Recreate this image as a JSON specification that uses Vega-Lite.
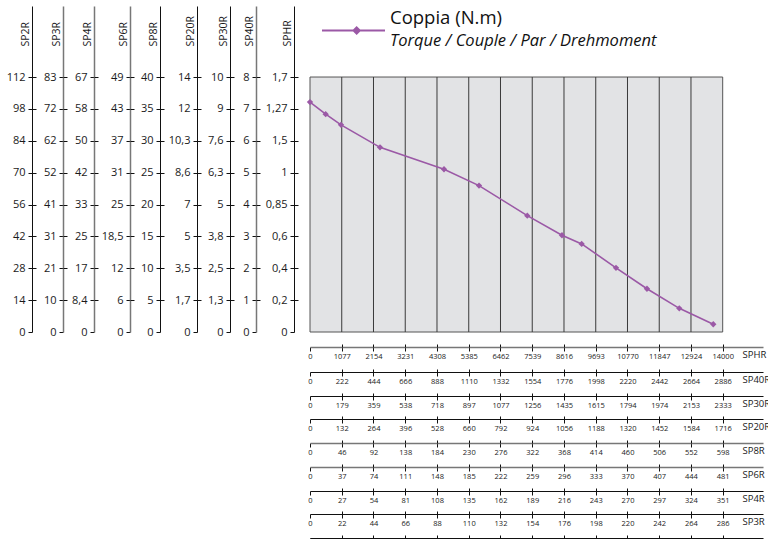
{
"$schema": "https://vega.github.io/schema/vega-lite/v6.json",
"width": 453, "height": 326,
"autosize": {"type": "none"},
"padding": {"left": 310, "top": 6, "right": 5, "bottom": 207},
"background": "white",
"datasets": {
 "torque": [
  {"rpm": 0, "t": 101.0}, {"rpm": 532, "t": 95.7}, {"rpm": 1052, "t": 91.0}, {"rpm": 2375, "t": 81.1},
  {"rpm": 4546, "t": 71.5}, {"rpm": 5733, "t": 64.3}, {"rpm": 7371, "t": 51.1}, {"rpm": 8548, "t": 42.5},
  {"rpm": 9216, "t": 38.7}, {"rpm": 10380, "t": 28.2}, {"rpm": 11431, "t": 19.0}, {"rpm": 12527, "t": 10.4},
  {"rpm": 13680, "t": 3.4}
 ],
 "grid": [{"x": 1077}, {"x": 2154}, {"x": 3231}, {"x": 4308}, {"x": 5385}, {"x": 6462}, {"x": 7539}, {"x": 8616}, {"x": 9693}, {"x": 10770}, {"x": 11847}, {"x": 12924}],
 "one": [{}]
},
"data": {"name": "torque"},
"title": {"text": "Coppia (N.m)", "subtitle": "Torque / Couple / Par / Drehmoment", "anchor": "start", "frame": "group", "orient": "top", "offset": 0, "dx": 80, "dy": 51, "font": "Open Sans", "fontSize": 18.5, "fontWeight": "normal", "color": "#111", "subtitleFont": "Open Sans", "subtitleFontSize": 16.5, "subtitleFontStyle": "italic", "subtitleColor": "#111", "subtitlePadding": 5},
"config": {
 "view": {"stroke": null},
 "axis": {"labelFont": "Open Sans", "titleFont": "Open Sans", "titleFontWeight": "normal", "labelColor": "#1a1a1a", "titleColor": "#1a1a1a", "tickColor": "#111", "grid": false, "labelOverlap": false, "labelFlush": false},
 "axisLeft": {"tickSize": 4, "labelPadding": 3, "labelFontSize": 11, "titleFontSize": 10.5, "titleAngle": 270, "titleAlign": "left", "titleBaseline": "alphabetic", "titleX": -4, "titleY": 40},
 "axisBottom": {"tickSize": 4, "labelPadding": 1.5, "labelFontSize": 7.5, "labelAngle": 0, "titleFontSize": 9.5, "titleAngle": 0, "titleAlign": "left", "titleBaseline": "alphabetic", "titleX": 432, "titleY": 10.5}
},
"resolve": {"scale": {"x": "independent", "y": "independent"}, "axis": {"x": "independent", "y": "independent"}},
"layer": [
 {"data": {"name": "one"}, "mark": {"type": "rect", "fill": "#e2e3e5", "stroke": "#555", "strokeWidth": 1},
  "encoding": {
   "x": {"datum": 0, "type": "quantitative", "scale": {"domain": [0, 15367], "nice": false, "zero": false}, "axis": null},
   "x2": {"datum": 14000},
   "y": {"datum": 0, "type": "quantitative", "scale": {"domain": [0, 143.2], "nice": false, "zero": false}, "axis": null},
   "y2": {"datum": 112}}},
 {"data": {"name": "grid"}, "mark": {"type": "rule", "color": "#3a3a3a", "strokeWidth": 1},
  "encoding": {
   "x": {"field": "x", "type": "quantitative", "scale": {"domain": [0, 15367], "nice": false, "zero": false}, "axis": null},
   "y": {"datum": 0, "type": "quantitative", "scale": {"domain": [0, 143.2], "nice": false, "zero": false}, "axis": null},
   "y2": {"datum": 112}}},
 {"mark": {"type": "line", "strokeWidth": 1.6, "point": {"shape": "diamond", "size": 40, "filled": true}},
  "encoding": {
   "x": {"field": "rpm", "type": "quantitative", "scale": {"domain": [0, 15367], "nice": false, "zero": false}, "axis": null},
   "y": {"field": "t", "type": "quantitative", "scale": {"domain": [0, 143.2], "nice": false, "zero": false}, "axis": null},
   "color": {"datum": "Coppia (N.m)", "scale": {"range": ["#9b59a6"]},
    "legend": {"orient": "none", "legendX": 11, "legendY": -8, "title": null, "symbolType": "M-1,0H1M0.1,-0.1L0.2,0L0.1,0.1L0,0Z", "symbolSize": 3969, "labelExpr": "''", "symbolStrokeWidth": 2, "symbolFillColor": "#9b59a6", "symbolStrokeColor": "#9b59a6"}}}},

 {"mark": {"type": "point", "opacity": 0}, "encoding": {"y": {"field": "t", "type": "quantitative", "scale": {"domain": [0, 143.2], "nice": false, "zero": false}, "axis": {"orient": "left", "offset": 278, "values": [0,14,28,42,56,70,84,98,112], "labelExpr": "['0','14','28','42','56','70','84','98','112'][round(datum.value/14)]", "title": "SP2R", "domainColor": "#111"}}}},
 {"mark": {"type": "point", "opacity": 0}, "encoding": {"y": {"field": "t", "type": "quantitative", "scale": {"domain": [0, 143.2], "nice": false, "zero": false}, "axis": {"orient": "left", "offset": 278, "values": [14,28,42,56,70,84,98,112], "labels": false, "domain": false, "title": null, "tickSize": -4}}}},
 {"mark": {"type": "point", "opacity": 0}, "encoding": {"y": {"field": "t", "type": "quantitative", "scale": {"domain": [0, 143.2], "nice": false, "zero": false}, "axis": {"orient": "left", "offset": 247, "values": [0,14,28,42,56,70,84,98,112], "labelExpr": "['0','10','21','31','41','52','62','72','83'][round(datum.value/14)]", "title": "SP3R", "domainColor": "#777", "domainWidth": 1.5}}}},
 {"mark": {"type": "point", "opacity": 0}, "encoding": {"y": {"field": "t", "type": "quantitative", "scale": {"domain": [0, 143.2], "nice": false, "zero": false}, "axis": {"orient": "left", "offset": 247, "values": [14,28,42,56,70,84,98,112], "labels": false, "domain": false, "title": null, "tickSize": -4}}}},
 {"mark": {"type": "point", "opacity": 0}, "encoding": {"y": {"field": "t", "type": "quantitative", "scale": {"domain": [0, 143.2], "nice": false, "zero": false}, "axis": {"orient": "left", "offset": 216, "values": [0,14,28,42,56,70,84,98,112], "labelExpr": "['0','8,4','17','25','33','42','50','58','67'][round(datum.value/14)]", "title": "SP4R", "domainColor": "#777", "domainWidth": 1.5}}}},
 {"mark": {"type": "point", "opacity": 0}, "encoding": {"y": {"field": "t", "type": "quantitative", "scale": {"domain": [0, 143.2], "nice": false, "zero": false}, "axis": {"orient": "left", "offset": 216, "values": [14,28,42,56,70,84,98,112], "labels": false, "domain": false, "title": null, "tickSize": -4}}}},
 {"mark": {"type": "point", "opacity": 0}, "encoding": {"y": {"field": "t", "type": "quantitative", "scale": {"domain": [0, 143.2], "nice": false, "zero": false}, "axis": {"orient": "left", "offset": 180, "values": [0,14,28,42,56,70,84,98,112], "labelExpr": "['0','6','12','18,5','25','31','37','43','49'][round(datum.value/14)]", "title": "SP6R", "domainColor": "#777", "domainWidth": 1.5}}}},
 {"mark": {"type": "point", "opacity": 0}, "encoding": {"y": {"field": "t", "type": "quantitative", "scale": {"domain": [0, 143.2], "nice": false, "zero": false}, "axis": {"orient": "left", "offset": 180, "values": [14,28,42,56,70,84,98,112], "labels": false, "domain": false, "title": null, "tickSize": -4}}}},
 {"mark": {"type": "point", "opacity": 0}, "encoding": {"y": {"field": "t", "type": "quantitative", "scale": {"domain": [0, 143.2], "nice": false, "zero": false}, "axis": {"orient": "left", "offset": 150, "values": [0,14,28,42,56,70,84,98,112], "labelExpr": "['0','5','10','15','20','25','30','35','40'][round(datum.value/14)]", "title": "SP8R", "domainColor": "#111"}}}},
 {"mark": {"type": "point", "opacity": 0}, "encoding": {"y": {"field": "t", "type": "quantitative", "scale": {"domain": [0, 143.2], "nice": false, "zero": false}, "axis": {"orient": "left", "offset": 150, "values": [14,28,42,56,70,84,98,112], "labels": false, "domain": false, "title": null, "tickSize": -4}}}},
 {"mark": {"type": "point", "opacity": 0}, "encoding": {"y": {"field": "t", "type": "quantitative", "scale": {"domain": [0, 143.2], "nice": false, "zero": false}, "axis": {"orient": "left", "offset": 113, "values": [0,14,28,42,56,70,84,98,112], "labelExpr": "['0','1,7','3,5','5','7','8,6','10,3','12','14'][round(datum.value/14)]", "title": "SP20R", "domainColor": "#111"}}}},
 {"mark": {"type": "point", "opacity": 0}, "encoding": {"y": {"field": "t", "type": "quantitative", "scale": {"domain": [0, 143.2], "nice": false, "zero": false}, "axis": {"orient": "left", "offset": 113, "values": [14,28,42,56,70,84,98,112], "labels": false, "domain": false, "title": null, "tickSize": -4}}}},
 {"mark": {"type": "point", "opacity": 0}, "encoding": {"y": {"field": "t", "type": "quantitative", "scale": {"domain": [0, 143.2], "nice": false, "zero": false}, "axis": {"orient": "left", "offset": 80, "values": [0,14,28,42,56,70,84,98,112], "labelExpr": "['0','1,3','2,5','3,8','5','6,3','7,6','9','10'][round(datum.value/14)]", "title": "SP30R", "domainColor": "#111"}}}},
 {"mark": {"type": "point", "opacity": 0}, "encoding": {"y": {"field": "t", "type": "quantitative", "scale": {"domain": [0, 143.2], "nice": false, "zero": false}, "axis": {"orient": "left", "offset": 80, "values": [14,28,42,56,70,84,98,112], "labels": false, "domain": false, "title": null, "tickSize": -4}}}},
 {"mark": {"type": "point", "opacity": 0}, "encoding": {"y": {"field": "t", "type": "quantitative", "scale": {"domain": [0, 143.2], "nice": false, "zero": false}, "axis": {"orient": "left", "offset": 54, "values": [0,14,28,42,56,70,84,98,112], "labelExpr": "['0','1','2','3','4','5','6','7','8'][round(datum.value/14)]", "title": "SP40R", "domainColor": "#777", "domainWidth": 1.5}}}},
 {"mark": {"type": "point", "opacity": 0}, "encoding": {"y": {"field": "t", "type": "quantitative", "scale": {"domain": [0, 143.2], "nice": false, "zero": false}, "axis": {"orient": "left", "offset": 54, "values": [14,28,42,56,70,84,98,112], "labels": false, "domain": false, "title": null, "tickSize": -4}}}},
 {"mark": {"type": "point", "opacity": 0}, "encoding": {"y": {"field": "t", "type": "quantitative", "scale": {"domain": [0, 143.2], "nice": false, "zero": false}, "axis": {"orient": "left", "offset": 16, "values": [0,14,28,42,56,70,84,98,112], "labelExpr": "['0','0,2','0,4','0,6','0,85','1','1,5','1,27','1,7'][round(datum.value/14)]", "title": "SPHR", "domainColor": "#111"}}}},
 {"mark": {"type": "point", "opacity": 0}, "encoding": {"y": {"field": "t", "type": "quantitative", "scale": {"domain": [0, 143.2], "nice": false, "zero": false}, "axis": {"orient": "left", "offset": 16, "values": [14,28,42,56,70,84,98,112], "labels": false, "domain": false, "title": null, "tickSize": -4}}}},

 {"mark": {"type": "point", "opacity": 0}, "encoding": {"x": {"field": "rpm", "type": "quantitative", "scale": {"domain": [0, 15367], "nice": false, "zero": false}, "axis": {"orient": "bottom", "offset": 15, "values": [0,1077,2154,3231,4308,5385,6462,7539,8616,9693,10770,11847,12924,14000], "labelExpr": "['0','1077','2154','3231','4308','5385','6462','7539','8616','9693','10770','11847','12924','14000'][round(datum.value/1077)]", "title": "SPHR", "domainColor": "#777", "domainWidth": 1.5}}}},
 {"mark": {"type": "point", "opacity": 0}, "encoding": {"x": {"field": "rpm", "type": "quantitative", "scale": {"domain": [0, 15367], "nice": false, "zero": false}, "axis": {"orient": "bottom", "offset": 15, "values": [1077,2154,3231,4308,5385,6462,7539,8616,9693,10770,11847,12924,14000], "labels": false, "domain": false, "title": null, "tickSize": -3}}}},
 {"mark": {"type": "point", "opacity": 0}, "encoding": {"x": {"field": "rpm", "type": "quantitative", "scale": {"domain": [0, 15367], "nice": false, "zero": false}, "axis": {"orient": "bottom", "offset": 40, "values": [0,1077,2154,3231,4308,5385,6462,7539,8616,9693,10770,11847,12924,14000], "labelExpr": "['0','222','444','666','888','1110','1332','1554','1776','1998','2220','2442','2664','2886'][round(datum.value/1077)]", "title": "SP40R", "domainColor": "#111"}}}},
 {"mark": {"type": "point", "opacity": 0}, "encoding": {"x": {"field": "rpm", "type": "quantitative", "scale": {"domain": [0, 15367], "nice": false, "zero": false}, "axis": {"orient": "bottom", "offset": 40, "values": [1077,2154,3231,4308,5385,6462,7539,8616,9693,10770,11847,12924,14000], "labels": false, "domain": false, "title": null, "tickSize": -3}}}},
 {"mark": {"type": "point", "opacity": 0}, "encoding": {"x": {"field": "rpm", "type": "quantitative", "scale": {"domain": [0, 15367], "nice": false, "zero": false}, "axis": {"orient": "bottom", "offset": 64, "values": [0,1077,2154,3231,4308,5385,6462,7539,8616,9693,10770,11847,12924,14000], "labelExpr": "['0','179','359','538','718','897','1077','1256','1435','1615','1794','1974','2153','2333'][round(datum.value/1077)]", "title": "SP30R", "domainColor": "#111"}}}},
 {"mark": {"type": "point", "opacity": 0}, "encoding": {"x": {"field": "rpm", "type": "quantitative", "scale": {"domain": [0, 15367], "nice": false, "zero": false}, "axis": {"orient": "bottom", "offset": 64, "values": [1077,2154,3231,4308,5385,6462,7539,8616,9693,10770,11847,12924,14000], "labels": false, "domain": false, "title": null, "tickSize": -3}}}},
 {"mark": {"type": "point", "opacity": 0}, "encoding": {"x": {"field": "rpm", "type": "quantitative", "scale": {"domain": [0, 15367], "nice": false, "zero": false}, "axis": {"orient": "bottom", "offset": 87, "values": [0,1077,2154,3231,4308,5385,6462,7539,8616,9693,10770,11847,12924,14000], "labelExpr": "['0','132','264','396','528','660','792','924','1056','1188','1320','1452','1584','1716'][round(datum.value/1077)]", "title": "SP20R", "domainColor": "#111"}}}},
 {"mark": {"type": "point", "opacity": 0}, "encoding": {"x": {"field": "rpm", "type": "quantitative", "scale": {"domain": [0, 15367], "nice": false, "zero": false}, "axis": {"orient": "bottom", "offset": 87, "values": [1077,2154,3231,4308,5385,6462,7539,8616,9693,10770,11847,12924,14000], "labels": false, "domain": false, "title": null, "tickSize": -3}}}},
 {"mark": {"type": "point", "opacity": 0}, "encoding": {"x": {"field": "rpm", "type": "quantitative", "scale": {"domain": [0, 15367], "nice": false, "zero": false}, "axis": {"orient": "bottom", "offset": 111, "values": [0,1077,2154,3231,4308,5385,6462,7539,8616,9693,10770,11847,12924,14000], "labelExpr": "['0','46','92','138','184','230','276','322','368','414','460','506','552','598'][round(datum.value/1077)]", "title": "SP8R", "domainColor": "#777", "domainWidth": 1.5}}}},
 {"mark": {"type": "point", "opacity": 0}, "encoding": {"x": {"field": "rpm", "type": "quantitative", "scale": {"domain": [0, 15367], "nice": false, "zero": false}, "axis": {"orient": "bottom", "offset": 111, "values": [1077,2154,3231,4308,5385,6462,7539,8616,9693,10770,11847,12924,14000], "labels": false, "domain": false, "title": null, "tickSize": -3}}}},
 {"mark": {"type": "point", "opacity": 0}, "encoding": {"x": {"field": "rpm", "type": "quantitative", "scale": {"domain": [0, 15367], "nice": false, "zero": false}, "axis": {"orient": "bottom", "offset": 135, "values": [0,1077,2154,3231,4308,5385,6462,7539,8616,9693,10770,11847,12924,14000], "labelExpr": "['0','37','74','111','148','185','222','259','296','333','370','407','444','481'][round(datum.value/1077)]", "title": "SP6R", "domainColor": "#777", "domainWidth": 1.5}}}},
 {"mark": {"type": "point", "opacity": 0}, "encoding": {"x": {"field": "rpm", "type": "quantitative", "scale": {"domain": [0, 15367], "nice": false, "zero": false}, "axis": {"orient": "bottom", "offset": 135, "values": [1077,2154,3231,4308,5385,6462,7539,8616,9693,10770,11847,12924,14000], "labels": false, "domain": false, "title": null, "tickSize": -3}}}},
 {"mark": {"type": "point", "opacity": 0}, "encoding": {"x": {"field": "rpm", "type": "quantitative", "scale": {"domain": [0, 15367], "nice": false, "zero": false}, "axis": {"orient": "bottom", "offset": 159, "values": [0,1077,2154,3231,4308,5385,6462,7539,8616,9693,10770,11847,12924,14000], "labelExpr": "['0','27','54','81','108','135','162','189','216','243','270','297','324','351'][round(datum.value/1077)]", "title": "SP4R", "domainColor": "#111"}}}},
 {"mark": {"type": "point", "opacity": 0}, "encoding": {"x": {"field": "rpm", "type": "quantitative", "scale": {"domain": [0, 15367], "nice": false, "zero": false}, "axis": {"orient": "bottom", "offset": 159, "values": [1077,2154,3231,4308,5385,6462,7539,8616,9693,10770,11847,12924,14000], "labels": false, "domain": false, "title": null, "tickSize": -3}}}},
 {"mark": {"type": "point", "opacity": 0}, "encoding": {"x": {"field": "rpm", "type": "quantitative", "scale": {"domain": [0, 15367], "nice": false, "zero": false}, "axis": {"orient": "bottom", "offset": 182, "values": [0,1077,2154,3231,4308,5385,6462,7539,8616,9693,10770,11847,12924,14000], "labelExpr": "['0','22','44','66','88','110','132','154','176','198','220','242','264','286'][round(datum.value/1077)]", "title": "SP3R", "domainColor": "#111"}}}},
 {"mark": {"type": "point", "opacity": 0}, "encoding": {"x": {"field": "rpm", "type": "quantitative", "scale": {"domain": [0, 15367], "nice": false, "zero": false}, "axis": {"orient": "bottom", "offset": 182, "values": [1077,2154,3231,4308,5385,6462,7539,8616,9693,10770,11847,12924,14000], "labels": false, "domain": false, "title": null, "tickSize": -3}}}},
 {"mark": {"type": "point", "opacity": 0}, "encoding": {"x": {"field": "rpm", "type": "quantitative", "scale": {"domain": [0, 15367], "nice": false, "zero": false}, "axis": {"orient": "bottom", "offset": 206, "values": [0,1077,2154,3231,4308,5385,6462,7539,8616,9693,10770,11847,12924,14000], "labels": false, "title": null, "domainColor": "#111"}}}},
 {"mark": {"type": "point", "opacity": 0}, "encoding": {"x": {"field": "rpm", "type": "quantitative", "scale": {"domain": [0, 15367], "nice": false, "zero": false}, "axis": {"orient": "bottom", "offset": 206, "values": [1077,2154,3231,4308,5385,6462,7539,8616,9693,10770,11847,12924,14000], "labels": false, "domain": false, "title": null, "tickSize": -3}}}}
]
}
